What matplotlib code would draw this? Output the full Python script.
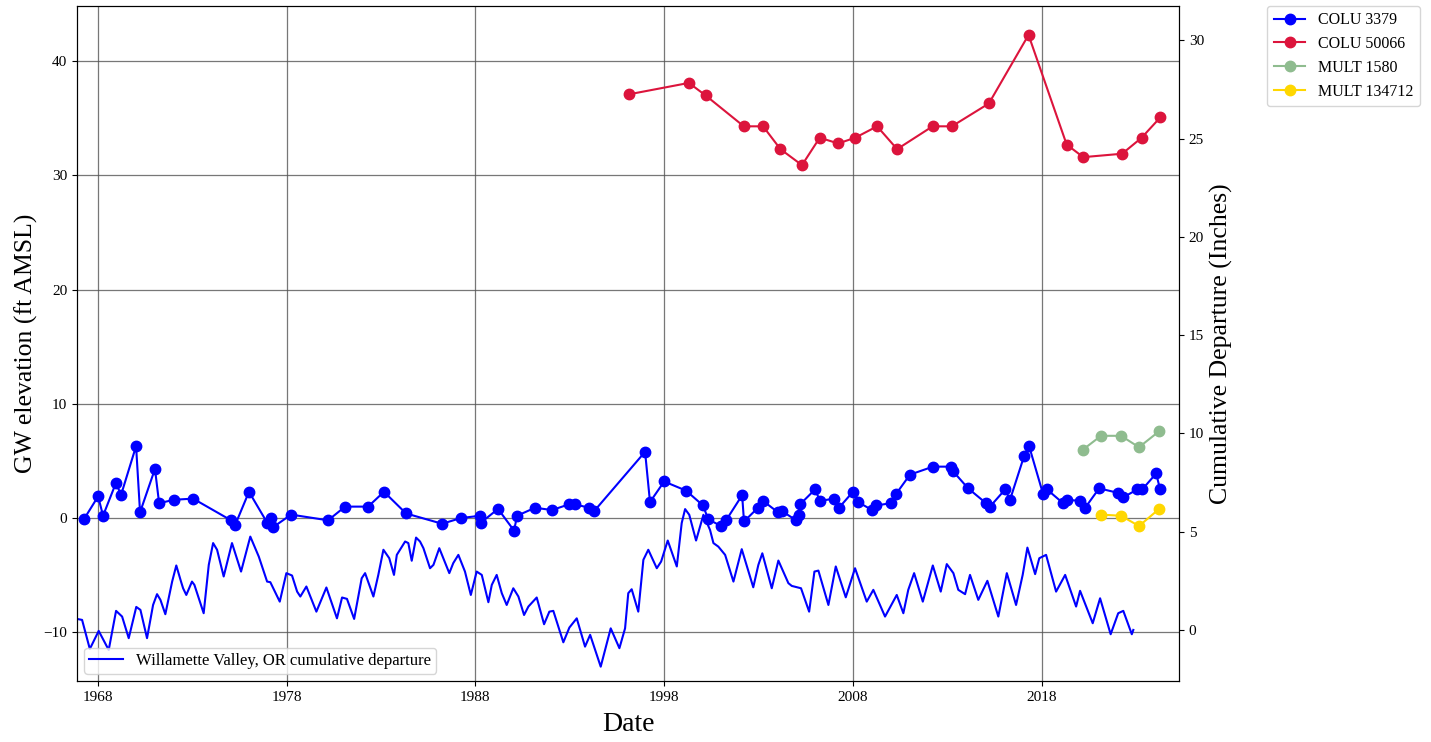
import matplotlib
matplotlib.use("Agg")
from matplotlib import pyplot as plt

plt.rcParams['font.family'] = ['Liberation Serif', 'DejaVu Serif']

# Well GW elevations (ft AMSL), dates as decimal years
colu3379_year = [1967.27, 1968.02, 1968.28, 1968.97, 1969.23, 1970.03, 1970.24, 1971.03,
                 1971.25, 1972.04, 1973.05, 1975.06, 1975.28, 1976.01, 1976.97, 1977.18,
                 1977.29, 1978.24, 1980.20, 1981.10, 1982.32, 1983.16, 1984.33, 1986.24,
                 1987.24, 1988.25, 1988.30, 1989.20, 1990.05, 1990.21, 1991.16, 1992.06,
                 1992.96, 1993.28, 1994.02, 1994.29, 1996.99, 1997.25, 1998.00, 1999.16,
                 2000.06, 2000.33, 2001.01, 2001.28, 2002.13, 2002.23, 2002.97, 2003.24,
                 2004.03, 2004.25, 2004.99, 2005.15, 2005.20, 2005.99, 2006.26, 2007.00,
                 2007.26, 2008.00, 2008.27, 2009.01, 2009.22, 2010.02, 2010.28, 2011.02,
                 2012.24, 2013.20, 2013.30, 2014.10, 2015.05, 2015.26, 2016.06, 2016.32,
                 2017.06, 2017.33, 2018.07, 2018.28, 2019.13, 2019.34, 2020.03, 2020.30,
                 2021.04, 2022.05, 2022.31, 2023.05, 2023.32, 2024.06, 2024.27]
colu3379_gw = [-0.1, 1.9, 0.2, 3.1, 2.0, 6.3, 0.5, 4.3,
               1.3, 1.6, 1.7, -0.2, -0.6, 2.3, -0.4, 0.0,
               -0.8, 0.3, -0.2, 1.0, 1.0, 2.3, 0.4, -0.5,
               0.0, 0.2, -0.4, 0.8, -1.1, 0.2, 0.9, 0.7,
               1.2, 1.2, 0.9, 0.6, 5.8, 1.4, 3.2, 2.4,
               1.1, -0.1, -0.7, -0.2, 2.0, -0.3, 0.9, 1.5,
               0.5, 0.6, -0.2, 0.3, 1.2, 2.5, 1.5, 1.7,
               0.9, 2.3, 1.4, 0.7, 1.1, 1.3, 2.1, 3.8,
               4.5, 4.5, 4.1, 2.6, 1.3, 1.0, 2.5, 1.6,
               5.4, 6.3, 2.1, 2.5, 1.3, 1.6, 1.5, 0.9,
               2.6, 2.2, 1.8, 2.5, 2.5, 3.9, 2.5]

colu50066_year = [1996.13, 1999.31, 2000.20, 2002.22, 2003.24, 2004.16, 2005.30, 2006.24,
                  2007.22, 2008.12, 2009.28, 2010.34, 2012.22, 2013.24, 2015.20, 2017.30,
                  2019.32, 2020.20, 2022.26, 2023.29, 2024.29]
colu50066_gw = [37.1, 38.1, 37.0, 34.3, 34.3, 32.3, 30.9, 33.3,
                32.8, 33.3, 34.3, 32.3, 34.3, 34.3, 36.3, 42.3,
                32.7, 31.6, 31.9, 33.3, 35.1]

mult1580_year = [2020.19, 2021.14, 2022.20, 2023.15, 2024.22]
mult1580_gw = [6.0, 7.2, 7.2, 6.2, 7.6]

mult134712_year = [2021.14, 2022.20, 2023.15, 2024.22]
mult134712_gw = [0.3, 0.2, -0.7, 0.8]

# Willamette Valley cumulative precipitation departure (inches)
cum_year = [1966.90, 1967.17, 1967.58, 1968.05, 1968.58, 1968.97, 1969.29, 1969.64,
            1970.04, 1970.26, 1970.61, 1970.93, 1971.14, 1971.32, 1971.58, 1971.94,
            1972.16, 1972.41, 1972.52, 1972.69, 1972.99, 1973.12, 1973.61, 1973.88,
            1974.11, 1974.32, 1974.67, 1975.11, 1975.59, 1976.08, 1976.53, 1976.97,
            1977.14, 1977.64, 1977.99, 1978.29, 1978.56, 1978.73, 1979.05, 1979.58,
            1980.11, 1980.67, 1980.94, 1981.20, 1981.58, 1981.98, 1982.16, 1982.60,
            1982.86, 1983.13, 1983.44, 1983.69, 1983.84, 1984.28, 1984.45, 1984.63,
            1984.86, 1985.07, 1985.25, 1985.60, 1985.78, 1986.09, 1986.62, 1986.83,
            1987.10, 1987.45, 1987.76, 1988.07, 1988.34, 1988.69, 1988.87, 1989.13,
            1989.40, 1989.66, 1990.01, 1990.28, 1990.58, 1990.81, 1991.25, 1991.64,
            1991.92, 1992.13, 1992.66, 1992.98, 1993.37, 1993.81, 1994.08, 1994.64,
            1995.17, 1995.63, 1995.93, 1996.10, 1996.28, 1996.63, 1996.90, 1997.16,
            1997.61, 1997.84, 1998.19, 1998.67, 1998.93, 1999.11, 1999.33, 1999.69,
            2000.08, 2000.43, 2000.61, 2000.87, 2001.23, 2001.67, 2002.11, 2002.72,
            2002.99, 2003.20, 2003.70, 2004.05, 2004.58, 2004.76, 2005.25, 2005.68,
            2005.96, 2006.17, 2006.70, 2007.09, 2007.62, 2008.11, 2008.73, 2009.08,
            2009.70, 2010.32, 2010.67, 2010.93, 2011.24, 2011.70, 2012.23, 2012.65,
            2012.97, 2013.32, 2013.58, 2013.94, 2014.20, 2014.64, 2015.12, 2015.70,
            2016.15, 2016.64, 2016.99, 2017.24, 2017.65, 2017.87, 2018.23, 2018.76,
            2019.24, 2019.82, 2020.03, 2020.70, 2021.09, 2021.65, 2022.05, 2022.32,
            2022.77, 2022.85]
cum_departure = [0.56, 0.51, -0.97, -0.05, -1.02, 0.97, 0.68, -0.42,
                 1.17, 1.02, -0.42, 1.27, 1.82, 1.53, 0.80, 2.46,
                 3.28, 2.46, 2.12, 1.78, 2.46, 2.29, 0.85, 3.31,
                 4.42, 4.08, 2.72, 4.42, 2.97, 4.75, 3.73, 2.46,
                 2.43, 1.44, 2.89, 2.77, 1.95, 1.70, 2.21, 0.93,
                 2.16, 0.59, 1.65, 1.58, 0.56, 2.63, 2.89, 1.70,
                 2.80, 4.08, 3.65, 2.80, 3.82, 4.50, 4.42, 3.52,
                 4.70, 4.50, 4.16, 3.14, 3.31, 4.16, 2.89, 3.40,
                 3.82, 2.97, 1.78, 2.97, 2.80, 1.41, 2.29, 2.80,
                 1.87, 1.27, 2.12, 1.70, 0.76, 1.19, 1.65, 0.29,
                 0.93, 0.97, -0.63, 0.12, 0.59, -0.85, -0.25, -1.87,
                 0.08, -0.93, 0.08, 1.87, 2.07, 0.93, 3.57, 4.08,
                 3.14, 3.48, 4.55, 3.23, 5.44, 6.15, 5.86, 4.55,
                 5.86, 5.09, 4.42, 4.24, 3.82, 2.46, 4.11, 2.17,
                 3.31, 3.90, 2.12, 3.53, 2.38, 2.24, 2.12, 0.93,
                 2.97, 3.02, 1.27, 3.23, 1.66, 3.14, 1.44, 2.04,
                 0.68, 1.78, 0.85, 2.04, 2.89, 1.44, 3.28, 1.95,
                 3.35, 2.89, 2.04, 1.82, 2.80, 1.53, 2.50, 0.68,
                 2.89, 1.27, 2.80, 4.19, 2.84, 3.65, 3.82, 1.95,
                 2.80, 1.19, 1.99, 0.34, 1.61, -0.22, 0.85, 0.97,
                 -0.22, 0.0]

year_ticks = [1968, 1978, 1988, 1998, 2008, 2018]

wells = [
    ('COLU 3379', colu3379_year, colu3379_gw, 'blue'),
    ('COLU 50066', colu50066_year, colu50066_gw, 'crimson'),
    ('MULT 1580', mult1580_year, mult1580_gw, 'darkseagreen'),
    ('MULT 134712', mult134712_year, mult134712_gw, 'gold'),
]

fig = plt.figure(figsize=(14.31, 7.42), dpi=100)
ax = fig.add_axes([0.0538, 0.0822, 0.7701, 0.9101])

for name, yrs, vals, color in wells:
    ax.plot(yrs, vals, marker='o', markersize=7.5, linewidth=1.5, color=color, label=name)

ax.set_xlim(1966.9, 2025.27)
ax.set_ylim(-14.27, 44.86)
ax.set_xticks(year_ticks)
ax.set_xticklabels([str(y) for y in year_ticks])
ax.grid(True, color='#555555', linewidth=0.9, alpha=0.8)
ax.tick_params(labelsize=11)
ax.set_ylabel('GW elevation (ft AMSL)', fontsize=18.5)
ax.set_xlabel('Date', fontsize=20, labelpad=6)
ax.legend(bbox_to_anchor=(1.08, 1.0), loc='upper left', borderaxespad=0,
          fontsize=11.5, labelspacing=0.5)

# Cumulative departure on a twin axis
ax2 = ax.twinx()
ax2.plot(cum_year, cum_departure, color='blue', linewidth=1.5,
         label='Willamette Valley, OR cumulative departure')
ax2.set_ylim(-2.6, 31.77)
ax2.set_ylabel('Cumulative Departure (Inches)', fontsize=18.5)
ax2.tick_params(labelsize=11)
ax2.legend(loc='lower left', fontsize=12, borderpad=0.3, borderaxespad=0.45)

fig.savefig('out.png', dpi=100)
